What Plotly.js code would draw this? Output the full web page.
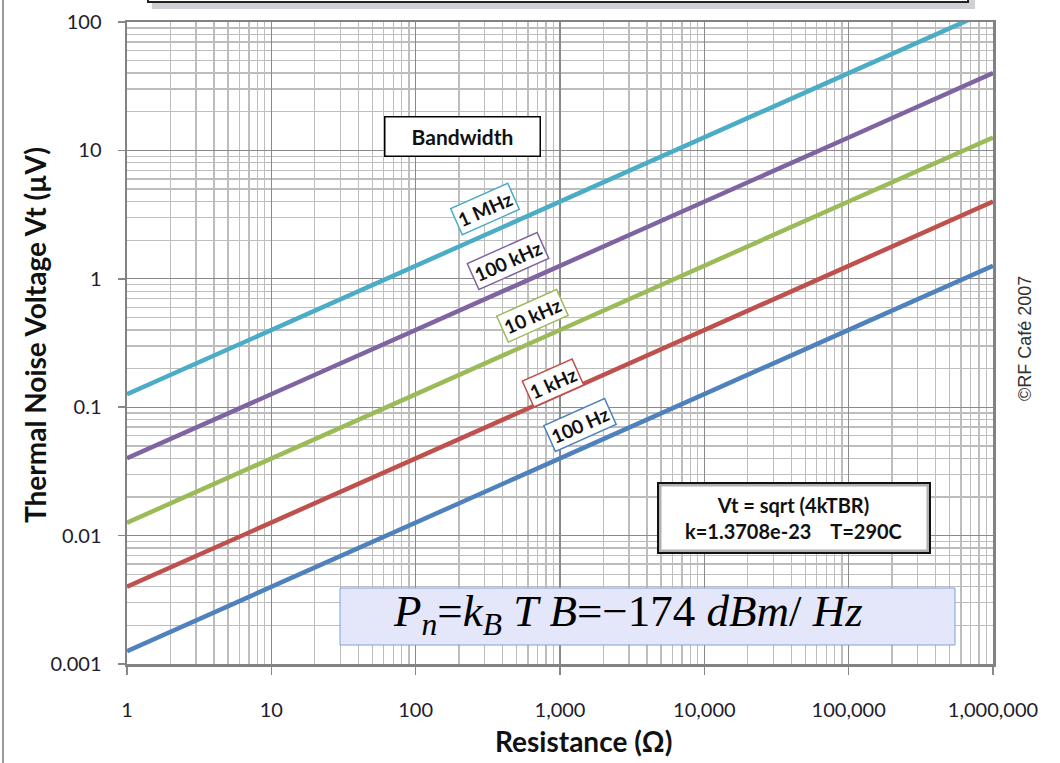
<!DOCTYPE html>
<html>
<head>
<meta charset="utf-8">
<script src="https://cdn.plot.ly/plotly-3.0.1.min.js"></script>
<style>html,body{margin:0;padding:0;background:#fff;}#chart{width:1060px;height:763px;}</style>
</head>
<body>
<div id="chart"></div>
<script>
// ---- data ----
const resistance = [1, 10, 100, 1000, 10000, 100000, 1000000];
const v_100Hz  = [0.00126, 0.0040, 0.0126, 0.040, 0.126, 0.40, 1.26];
const v_1kHz   = [0.0040, 0.0126, 0.040, 0.126, 0.40, 1.26, 4.0];
const v_10kHz  = [0.0126, 0.040, 0.126, 0.40, 1.26, 4.0, 12.6];
const v_100kHz = [0.040, 0.126, 0.40, 1.26, 4.0, 12.6, 40];
const v_1MHz   = [0.126, 0.40, 1.26, 4.0, 12.6, 40, 126];
const seriesNames = ["100 Hz", "1 kHz", "10 kHz", "100 kHz", "1 MHz"];

const xTickVals = [1, 10, 100, 1000, 10000, 100000, 1000000];
const xTickText = ["1", "10", "100", "1,000", "10,000", "100,000", "1,000,000"];
const yTickVals = [0.001, 0.01, 0.1, 1, 10, 100];
const yTickText = ["0.001", "0.01", "0.1", "1", "10", "100"];

// ---- styling ----
const colors = ["#4F81BD", "#C0504D", "#9BBB59", "#8064A2", "#4BACC6"];
const seriesValues = [v_100Hz, v_1kHz, v_10kHz, v_100kHz, v_1MHz];

const W = 1060, H = 763;
const L = 127, R = 993, T = 22, B = 664;
const px = x => (x - L) / (R - L);
const py = y => (B - y) / (B - T);

const traces = seriesValues.map((v, i) => ({
  x: resistance, y: v, type: "scatter", mode: "lines", name: seriesNames[i],
  line: {color: colors[i], width: 4.5}, hoverinfo: "x+y+name"
}));

const sans = "Lato, 'Open Sans', sans-serif";
const seriesLabelPos = [[580, 425], [553, 383], [532, 316], [508, 261], [485, 209]];
const annotations = seriesNames.map((n, i) => ({
  xref: "paper", yref: "paper", x: px(seriesLabelPos[i][0]), y: py(seriesLabelPos[i][1]),
  xanchor: "center", yanchor: "middle",
  text: "<b>" + n + "</b>", showarrow: false, textangle: -24,
  font: {family: sans, size: 19, color: "#111"},
  bgcolor: "#ffffff", bordercolor: colors[i], borderwidth: 1.5, borderpad: 2
}));

annotations.push(
  {xref: "paper", yref: "paper", x: px(462.5), y: py(136.5), xanchor: "center", yanchor: "middle",
   text: "<b>Bandwidth</b>", showarrow: false,
   font: {family: sans, size: 21, color: "#111"}, bgcolor: "#ffffff", bordercolor: "#000",
   borderwidth: 1.5, width: 150, height: 34, borderpad: 2},
  {xref: "paper", yref: "paper", x: px(793), y: py(518), xanchor: "center", yanchor: "middle",
   text: "<b>Vt = sqrt (4kTBR)</b><br><b>k=1.3708e-23\u00A0\u00A0\u00A0 T=290C</b>", showarrow: false,
   font: {family: sans, size: 20, color: "#111"}},
  {xref: "paper", yref: "paper", x: px(628), y: py(614), xanchor: "center", yanchor: "middle",
   text: "<i>P</i><sub><i>n</i></sub>=<i>k</i><sub><i>B</i></sub>\u00A0<i>T</i>\u00A0<i>B</i>=\u2212174\u00A0<i>dBm</i>/\u00A0<i>Hz</i>",
   showarrow: false, font: {family: "'Liberation Serif', 'DejaVu Serif', serif", size: 45, color: "#000"}},
  {xref: "paper", yref: "paper", x: px(1025), y: py(339), xanchor: "center", yanchor: "middle",
   text: "\u00A9RF Caf\u00E9 2007", showarrow: false,
   textangle: -90, font: {family: "'Liberation Sans', Arial, sans-serif", size: 18, color: "#333"}},
  {xref: "paper", yref: "paper", x: px(583), y: py(741), xanchor: "center", yanchor: "middle",
   text: "<b>Resistance (\u03A9)</b>", showarrow: false,
   font: {family: sans, size: 28, color: "#111"}},
  {xref: "paper", yref: "paper", x: px(35), y: py(335), xanchor: "center", yanchor: "middle",
   text: "<b>Thermal Noise Voltage Vt (\u00B5V)</b>", showarrow: false,
   textangle: -90, font: {family: sans, size: 28, color: "#111"}}
);

const shapes = [
  // top title box (cut off) and its shadow
  {type: "rect", xref: "paper", yref: "paper", x0: px(152), x1: px(975), y0: py(9), y1: py(-40),
   fillcolor: "#cfcfd4", line: {width: 0}},
  {type: "rect", xref: "paper", yref: "paper", x0: px(148), x1: px(968), y0: py(2), y1: py(-40),
   fillcolor: "#ffffff", line: {color: "#222", width: 2}},
  // left frame line
  {type: "line", xref: "paper", yref: "paper", x0: px(3), x1: px(3), y0: py(0), y1: py(763),
   line: {color: "#9a9a9a", width: 2}},
  // formula box with inner shading
  {type: "rect", xref: "paper", yref: "paper", x0: px(660), x1: px(928), y0: py(551), y1: py(485),
   fillcolor: "#ffffff", line: {color: "#b0b0b0", width: 3}},
  {type: "rect", xref: "paper", yref: "paper", x0: px(658), x1: px(930), y0: py(553), y1: py(483),
   fillcolor: "rgba(0,0,0,0)", line: {color: "#111", width: 2}},
  // Pn box
  {type: "rect", xref: "paper", yref: "paper", x0: px(340), x1: px(955), y0: py(645), y1: py(588),
   fillcolor: "#e4e6f9", line: {color: "#7f9fdc", width: 1}}
];

const gridMinor = {dtick: "D1", showgrid: true, gridcolor: "#bdbdbd", gridwidth: 1.3, ticks: ""};
const tickFont = {family: sans, size: 20, color: "#1c1c2c"};

const layout = {
  width: W, height: H,
  margin: {l: L, r: W - R, t: T, b: H - B, pad: 0},
  paper_bgcolor: "#ffffff", plot_bgcolor: "#ffffff",
  showlegend: false,
  xaxis: {
    type: "log", range: [0, 6], tickmode: "array", tickvals: xTickVals, ticktext: xTickText,
    showgrid: true, gridcolor: "#8a8a8a", gridwidth: 1.4, minor: gridMinor,
    ticks: "outside", ticklen: 8, tickwidth: 1.5, tickcolor: "#888",
    showline: true, linecolor: "#828282", linewidth: 2.5, mirror: true,
    tickfont: tickFont, ticklabelstandoff: 18, zeroline: false
  },
  yaxis: {
    type: "log", range: [-3, 2], tickmode: "array", tickvals: yTickVals, ticktext: yTickText,
    showgrid: true, gridcolor: "#8a8a8a", gridwidth: 1.4, minor: gridMinor,
    ticks: "outside", ticklen: 7, tickwidth: 1.5, tickcolor: "#888",
    showline: true, linecolor: "#828282", linewidth: 2.5, mirror: true,
    tickfont: tickFont, ticklabelstandoff: 12, zeroline: false
  },
  annotations: annotations,
  shapes: shapes
};

Plotly.newPlot("chart", traces, layout, {displayModeBar: false, staticPlot: true});
</script>
</body>
</html>
